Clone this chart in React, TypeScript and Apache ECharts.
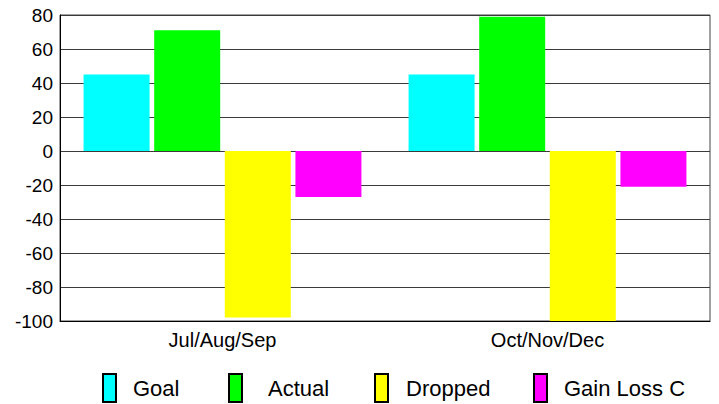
import React, { useEffect, useRef } from "react";
import * as echarts from "echarts";

const categories = ["Jul/Aug/Sep", "Oct/Nov/Dec"];
const seriesNames = ["Goal", "Actual", "Dropped", "Gain Loss C"];
const goal = [45, 45];
const actual = [71, 79];
const dropped = [-98, -100];
const gainLoss = [-27, -21];
const yMin = -100;
const yMax = 80;
const yInterval = 20;

const colors = ["#00FFFF", "#00FF00", "#FFFF00", "#FF00FF"];
const legendLefts = [102, 228, 374, 533];
const legendTextPad = [12, 21, 13, 12];

export default function App() {
  const ref = useRef<HTMLDivElement>(null);
  useEffect(() => {
    if (!ref.current) return;
    const chart = echarts.init(ref.current, null, { renderer: "svg" });
    const values = [goal, actual, dropped, gainLoss];
    const font = "Arial, 'Liberation Sans', sans-serif";
    chart.setOption({
      animation: false,
      backgroundColor: "#ffffff",
      grid: {
        left: 60,
        top: 15,
        right: 9,
        bottom: 83,
        show: true,
        borderColor: "#444",
        borderWidth: 1,
        containLabel: false,
      },
      legend: seriesNames.map((n, i) => ({
        data: [n],
        left: legendLefts[i],
        top: 373,
        padding: 0,
        orient: "horizontal",
        icon: "rect",
        itemWidth: 13,
        itemHeight: 28,
        selectedMode: false,
        itemStyle: { borderColor: "#000", borderWidth: 2 },
        textStyle: {
          fontFamily: font,
          fontSize: 22,
          color: "#000",
          padding: [0, 0, 0, legendTextPad[i]],
        },
      })),
      xAxis: {
        type: "category",
        data: categories,
        axisLine: { onZero: false, lineStyle: { color: "#000", width: 1 } },
        axisTick: { show: false },
        axisLabel: { fontFamily: font, fontSize: 20, color: "#000", margin: 9 },
        splitLine: { show: false },
      },
      yAxis: {
        type: "value",
        min: yMin,
        max: yMax,
        interval: yInterval,
        axisLine: { show: true, lineStyle: { color: "#000", width: 1 } },
        axisTick: { show: false },
        axisLabel: { fontFamily: font, fontSize: 19, color: "#000", margin: 7 },
        splitLine: { show: true, lineStyle: { color: "#3a3a3a", width: 1 } },
      },
      series: seriesNames.map((n, i) => ({
        name: n,
        type: "bar",
        data: values[i],
        barWidth: 66,
        barGap: "7%",
        itemStyle: { color: colors[i] },
      })),
    });
    return () => chart.dispose();
  }, []);
  return (
    <div
      ref={ref}
      style={{ position: "fixed", left: 0, top: 0, width: 719, height: 404 }}
    />
  );
}
